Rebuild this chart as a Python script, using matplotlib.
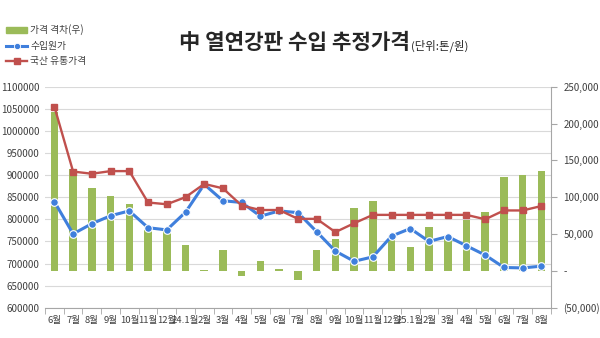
import matplotlib
matplotlib.use("Agg")
import matplotlib.pyplot as plt
from matplotlib.patches import Patch
from matplotlib.lines import Line2D


plt.rcParams["font.family"] = ["Noto Sans CJK KR", "DejaVu Sans"]

MONTHS = ["6월", "7월", "8월", "9월", "10월", "11월", "12월",
          "24.1월", "2월", "3월", "4월", "5월", "6월", "7월", "8월",
          "9월", "10월", "11월", "12월",
          "25.1월", "2월", "3월", "4월", "5월", "6월", "7월", "8월"]

# 국산 유통가격 (left axis, 원/톤)
DOMESTIC = [1055000, 908000, 903000, 909000, 909000, 838000, 834000,
            850000, 880000, 870000, 831000, 821000, 821000, 801000, 801000,
            771000, 791000, 810000, 810000,
            810000, 810000, 810000, 810000, 800000, 820000, 820000, 830000]

# 수입원가 (left axis)
IMPORT_COST = [840000, 767000, 790000, 808000, 819000, 781000, 776000,
               816000, 879000, 842000, 838000, 807000, 819000, 815000, 772000,
               728000, 705000, 715000, 762000,
               779000, 750000, 761000, 740000, 719000, 691000, 690000, 694000]

# 가격 격차 (right axis)
GAP = [215000, 138000, 113000, 101000, 91000, 56000, 56000,
       35000, 1000, 28000, -7000, 13000, 2000, -13000, 28000,
       43000, 86000, 95000, 47000,
       32000, 60000, 48000, 69000, 80000, 128000, 130000, 136000]

LEFT_TICKS = list(range(600000, 1100001, 50000))
RIGHT_TICKS = [-50000, 0, 50000, 100000, 150000, 200000, 250000]
RIGHT_LABELS = ["(50,000)", "-", "50,000", "100,000", "150,000", "200,000", "250,000"]

GREEN = "#9BBB59"
RED = "#C0504D"
BLUE = "#3F7FDC"
TEXT = "#404040"

fig = plt.figure(figsize=(6.0, 3.38), dpi=100)
rect = [0.075, 0.0896, 0.843, 0.654]

ax = fig.add_axes(rect)
x = list(range(len(MONTHS)))

ax.set_ylim(600000, 1100000)
ax.set_yticks(LEFT_TICKS)
ax.set_yticklabels([str(v) for v in LEFT_TICKS])
ax.grid(axis="y", color="#d9d9d9", linewidth=0.8)
ax.set_axisbelow(True)
ax.set_xlim(-0.5, len(MONTHS) - 0.5)
ax.set_xticks(x)
ax.set_xticklabels(MONTHS)
ax.set_xticks([i - 0.5 for i in range(len(MONTHS) + 1)], minor=True)
ax.tick_params(axis="x", which="major", length=0, pad=6, labelsize=6.8, colors=TEXT)
ax.tick_params(axis="x", which="minor", length=4, color="#a6a6a6")
ax.tick_params(axis="y", length=0, labelsize=7, colors=TEXT, pad=4)
for side in ["left", "top", "right"]:
    ax.spines[side].set_visible(False)
ax.spines["bottom"].set_color("#a6a6a6")

# bars on the right-hand scale
ax2 = ax.twinx()
ax2.bar(x, GAP, width=0.4, color=GREEN, zorder=2)
ax2.set_ylim(-50000, 250000)
ax2.set_yticks(RIGHT_TICKS)
ax2.set_yticklabels(RIGHT_LABELS)
ax2.tick_params(axis="y", length=4, color="#a6a6a6", labelsize=7, colors=TEXT, pad=5)
for side in ["left", "top", "bottom"]:
    ax2.spines[side].set_visible(False)
ax2.spines["right"].set_color("#a6a6a6")

# lines on top, same scale as the left axis
ax3 = ax.twinx()
ax3.set_ylim(600000, 1100000)
ax3.set_yticks([])
for side in ax3.spines.values():
    side.set_visible(False)
ax3.plot(x, IMPORT_COST, color=BLUE, linewidth=2.2, marker="o", markersize=5.5,
         markerfacecolor=BLUE, markeredgecolor="white", markeredgewidth=0.8, zorder=3)
ax3.plot(x, DOMESTIC, color=RED, linewidth=1.7, marker="s", markersize=5,
         markerfacecolor=RED, markeredgecolor=RED, zorder=4)

title = fig.text(0.298, 0.855, "中 열연강판 수입 추정가격", fontsize=15.3, fontweight="bold",
                 color="#262626", ha="left", va="baseline")
fig.canvas.draw()
title_end = title.get_window_extent().x1 / fig.bbox.width
fig.text(title_end + 0.002, 0.855, "(단위:톤/원)", fontsize=8.2, color="#262626",
         ha="left", va="baseline")

handles = [
    Patch(facecolor=GREEN, edgecolor=GREEN),
    Line2D([], [], color=BLUE, linewidth=2.2, marker="o", markersize=4.5,
           markerfacecolor=BLUE, markeredgecolor="white", markeredgewidth=0.6),
    Line2D([], [], color=RED, linewidth=1.7, marker="s", markersize=4.5),
]
fig.legend(handles, ["가격 격차(우)", "수입원가", "국산 유통가격"],
           loc="upper left", bbox_to_anchor=(0.0, 0.945), frameon=False,
           fontsize=7, handlelength=2.2, handleheight=0.5, handletextpad=0.3,
           labelspacing=0.55, labelcolor=TEXT, borderaxespad=0.2)

fig.savefig("out.png", dpi=100)
